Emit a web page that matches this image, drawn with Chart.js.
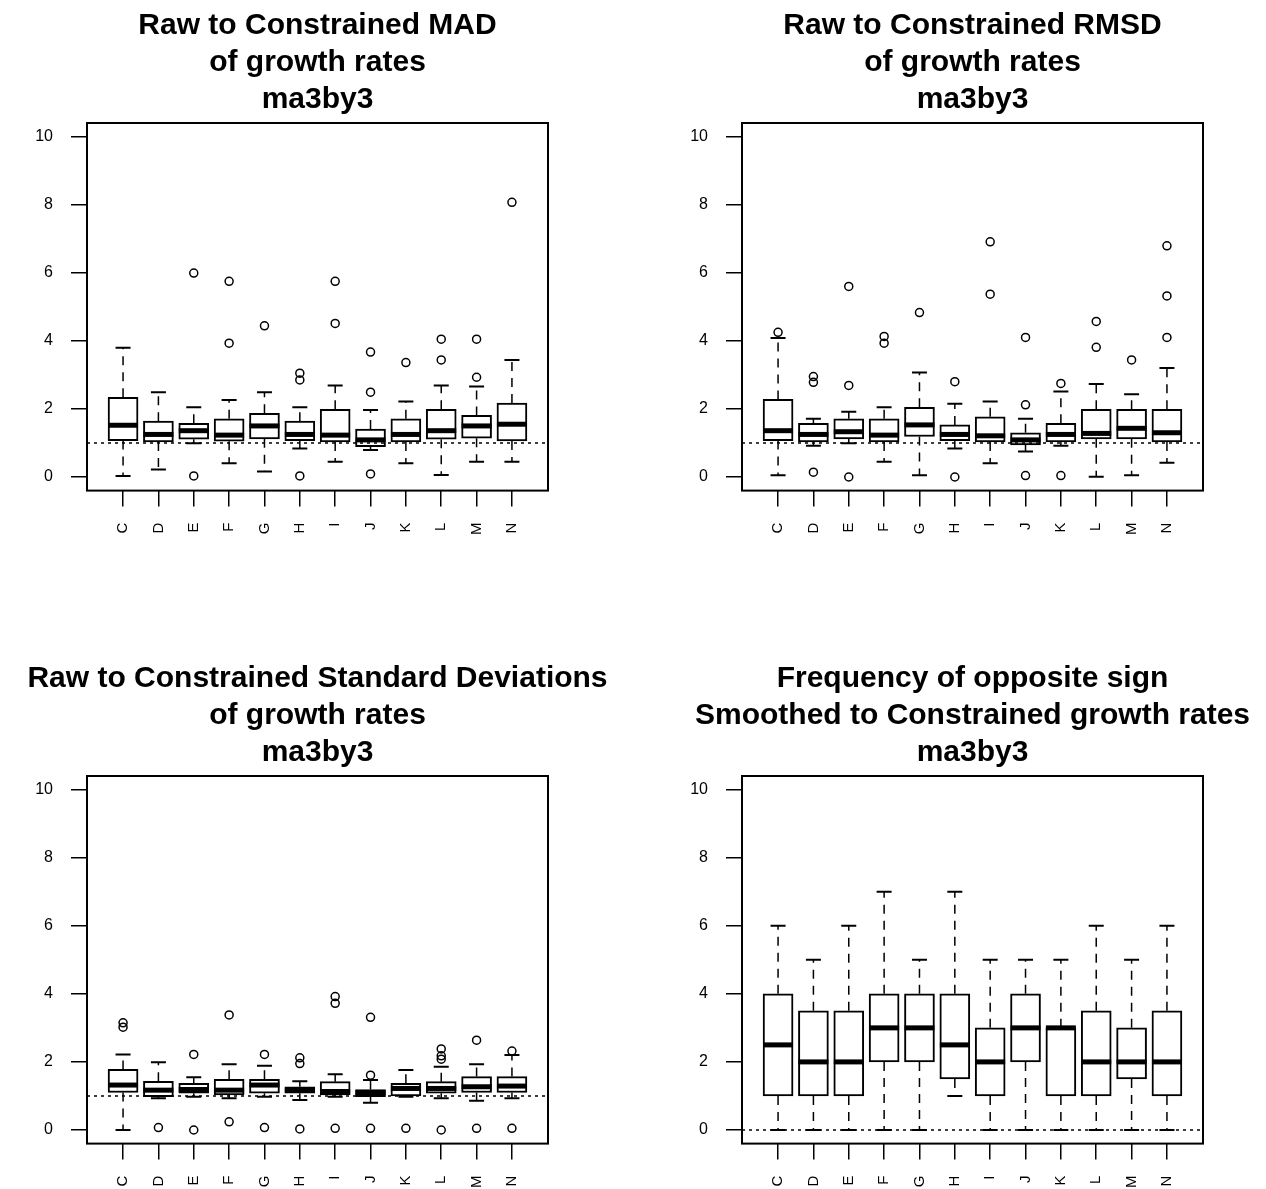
<!DOCTYPE html>
<html>
<head>
<meta charset="utf-8">
<script src="https://cdn.jsdelivr.net/npm/chart.js@4.4.0/dist/chart.umd.min.js"></script>
<style>
  html, body { margin: 0; padding: 0; background: #fff; }
  #wrap { position: relative; width: 1266px; height: 1189px; overflow: hidden; background: #fff; }
  canvas { position: absolute; }
</style>
</head>
<body>
<div id="wrap">
  <canvas id="madChart" width="635" height="536" style="left:0px;top:0px"></canvas>
  <canvas id="rmsdChart" width="635" height="536" style="left:655px;top:0px"></canvas>
  <canvas id="sdChart" width="635" height="536" style="left:0px;top:653px"></canvas>
  <canvas id="freqChart" width="635" height="536" style="left:655px;top:653px"></canvas>
</div>
<script>
const categories = ['C', 'D', 'E', 'F', 'G', 'H', 'I', 'J', 'K', 'L', 'M', 'N'];
const yTicks = [0, 2, 4, 6, 8, 10];

// MAD ratios
const madTitle = ['Raw to Constrained MAD', 'of growth rates', 'ma3by3'];
const madLow  = [0.03, 0.22, 0.99, 0.40, 0.16, 0.84, 0.45, 0.79, 0.40, 0.06, 0.45, 0.45];
const madQ1   = [1.07, 1.03, 1.11, 1.05, 1.12, 1.07, 1.03, 0.89, 1.03, 1.11, 1.14, 1.06];
const madMed  = [1.52, 1.25, 1.36, 1.23, 1.50, 1.25, 1.23, 1.09, 1.25, 1.36, 1.50, 1.55];
const madQ3   = [2.34, 1.64, 1.58, 1.71, 1.87, 1.64, 1.99, 1.41, 1.71, 1.99, 1.81, 2.17];
const madHigh = [3.80, 2.49, 2.05, 2.26, 2.49, 2.05, 2.69, 1.97, 2.22, 2.69, 2.66, 3.44];
const madOut  = [[], [], [5.99, 0.03], [5.75, 3.93], [4.44], [3.05, 2.85, 0.03],
                 [5.75, 4.51], [3.67, 2.49, 0.09], [3.36], [4.05, 3.44], [4.05, 2.93], [8.07]];

// RMSD ratios
const rmsdTitle = ['Raw to Constrained RMSD', 'of growth rates', 'ma3by3'];
const rmsdLow  = [0.05, 0.92, 0.99, 0.45, 0.05, 0.84, 0.40, 0.75, 0.92, 0.01, 0.05, 0.42];
const rmsdQ1   = [1.07, 1.03, 1.12, 1.03, 1.19, 1.07, 1.03, 0.94, 1.03, 1.12, 1.12, 1.03];
const rmsdMed  = [1.36, 1.25, 1.33, 1.23, 1.53, 1.25, 1.21, 1.09, 1.25, 1.28, 1.43, 1.30];
const rmsdQ3   = [2.28, 1.58, 1.71, 1.71, 2.05, 1.53, 1.77, 1.30, 1.58, 1.99, 1.99, 1.99];
const rmsdHigh = [4.08, 1.71, 1.92, 2.05, 3.07, 2.15, 2.22, 1.71, 2.51, 2.73, 2.43, 3.20];
const rmsdOut  = [[4.25], [2.95, 2.78, 0.14], [5.60, 2.69, 0.0], [4.13, 3.93], [4.83], [2.80, 0.0],
                  [6.91, 5.37], [4.10, 2.12, 0.04], [2.75, 0.04], [4.57, 3.81], [3.44], [6.79, 5.32, 4.10]];

// Standard deviation ratios
const sdTitle = ['Raw to Constrained Standard Deviations', 'of growth rates', 'ma3by3'];
const sdLow  = [0.00, 0.93, 0.98, 0.93, 0.98, 0.88, 0.98, 0.80, 0.98, 0.93, 0.86, 0.93];
const sdQ1   = [1.10, 0.98, 1.08, 1.03, 1.08, 1.08, 1.03, 0.98, 1.00, 1.08, 1.10, 1.10];
const sdMed  = [1.32, 1.17, 1.19, 1.17, 1.32, 1.17, 1.13, 1.10, 1.22, 1.22, 1.27, 1.29];
const sdQ3   = [1.78, 1.43, 1.37, 1.49, 1.49, 1.27, 1.42, 1.19, 1.37, 1.42, 1.57, 1.57];
const sdHigh = [2.22, 1.99, 1.55, 1.93, 1.89, 1.43, 1.64, 1.47, 1.76, 1.86, 1.93, 2.20];
const sdOut  = [[3.15, 3.02], [0.07], [2.22, 0.0], [3.38, 0.24], [2.22, 0.07], [2.12, 1.95, 0.03],
                [3.92, 3.72, 0.05], [3.31, 1.61, 0.05], [0.05], [2.38, 2.18, 2.08, 0.0], [2.64, 0.05], [2.32, 0.05]];

// Frequency of opposite sign
const freqTitle = ['Frequency of opposite sign', 'Smoothed to Constrained growth rates', 'ma3by3'];
const freqLow  = [0, 0, 0, 0, 0, 1, 0, 0, 0, 0, 0, 0];
const freqQ1   = [1, 1, 1, 2, 2, 1.5, 1, 2, 1, 1, 1.5, 1];
const freqMed  = [2.5, 2, 2, 3, 3, 2.5, 2, 3, 3, 2, 2, 2];
const freqQ3   = [4, 3.5, 3.5, 4, 4, 4, 3, 4, 3, 3.5, 3, 3.5];
const freqHigh = [6, 5, 6, 7, 5, 7, 5, 5, 5, 6, 5, 6];
const freqOut  = [[], [], [], [], [], [], [], [], [], [], [], []];

const FONT = "'Liberation Sans', Arial, sans-serif";
const BOX_W = 30;

function makeBoxChart(canvasId, titleLines, low, q1, med, q3, high, outliers, refLevel) {
    // whiskers, staples, medians, reference line and frame
    const boxParts = {
        id: 'boxParts',
        beforeDatasetsDraw(chart) {
            const {ctx, scales: {x, y}} = chart;
            ctx.save();
            ctx.strokeStyle = '#000';
            categories.forEach((c, i) => {
                const px = x.getPixelForValue(i + 1);
                ctx.lineWidth = 1.5;
                ctx.setLineDash([9, 7]);
                ctx.beginPath();
                ctx.moveTo(px, y.getPixelForValue(q3[i]));
                ctx.lineTo(px, y.getPixelForValue(high[i]));
                ctx.moveTo(px, y.getPixelForValue(q1[i]));
                ctx.lineTo(px, y.getPixelForValue(low[i]));
                ctx.stroke();
                ctx.setLineDash([]);
                ctx.lineWidth = 2;
                ctx.beginPath();
                [high[i], low[i]].forEach(v => {
                    const py = y.getPixelForValue(v);
                    ctx.moveTo(px - BOX_W / 4, py);
                    ctx.lineTo(px + BOX_W / 4, py);
                });
                ctx.stroke();
            });
            ctx.restore();
        },
        afterDatasetsDraw(chart) {
            const {ctx, chartArea, scales: {x, y}} = chart;
            ctx.save();
            ctx.strokeStyle = '#000';
            ctx.lineWidth = 5;
            ctx.lineCap = 'butt';
            categories.forEach((c, i) => {
                const px = x.getPixelForValue(i + 1);
                const py = y.getPixelForValue(med[i]);
                ctx.beginPath();
                ctx.moveTo(px - BOX_W / 2, py);
                ctx.lineTo(px + BOX_W / 2, py);
                ctx.stroke();
            });
            const ry = y.getPixelForValue(refLevel);
            ctx.lineWidth = 1.5;
            ctx.setLineDash([3, 4]);
            ctx.beginPath();
            ctx.moveTo(chartArea.left, ry);
            ctx.lineTo(chartArea.right, ry);
            ctx.stroke();
            ctx.restore();
        },
        afterDraw(chart) {
            const {ctx, chartArea} = chart;
            ctx.save();
            ctx.strokeStyle = '#000';
            ctx.lineWidth = 2;
            ctx.strokeRect(chartArea.left, chartArea.top, chartArea.right - chartArea.left, chartArea.bottom - chartArea.top);
            ctx.restore();
        }
    };

    const outlierPoints = [];
    outliers.forEach((vals, i) => vals.forEach(v => outlierPoints.push({x: i + 1, y: v})));

    return new Chart(document.getElementById(canvasId), {
        type: 'bar',
        data: {
            datasets: [
                {
                    type: 'scatter',
                    data: outlierPoints,
                    pointStyle: 'circle',
                    pointRadius: 4,
                    pointHoverRadius: 4,
                    pointBorderWidth: 1.5,
                    borderColor: '#000',
                    backgroundColor: 'rgba(0,0,0,0)'
                },
                {
                    type: 'bar',
                    data: categories.map((c, i) => ({x: i + 1, y: [q1[i], q3[i]]})),
                    backgroundColor: '#fff',
                    borderColor: '#000',
                    borderWidth: 2,
                    borderSkipped: false,
                    barThickness: BOX_W
                }
            ]
        },
        options: {
            responsive: false,
            animation: false,
            layout: { padding: 0 },
            plugins: {
                legend: { display: false },
                tooltip: { enabled: false },
                title: {
                    display: true,
                    text: titleLines,
                    color: '#000',
                    font: { family: FONT, size: 30, weight: 'bold', lineHeight: 37 / 30 },
                    padding: { top: 7.5, bottom: 4.5 }
                }
            },
            scales: {
                x: {
                    type: 'linear',
                    min: -0.02,
                    max: 13.02,
                    offset: false,
                    afterBuildTicks: s => { s.ticks = categories.map((c, i) => ({value: i + 1})); },
                    afterFit: s => { s.height = 45.4; },
                    ticks: {
                        autoSkip: false,
                        minRotation: 90,
                        maxRotation: 90,
                        padding: 16,
                        color: '#000',
                        font: { family: FONT, size: 15 },
                        callback: v => categories[v - 1]
                    },
                    grid: { offset: false, drawOnChartArea: false, drawTicks: true, tickLength: 16, color: '#000', lineWidth: 1.5 },
                    border: { display: false }
                },
                y: {
                    type: 'linear',
                    min: -0.4,
                    max: 10.4,
                    afterBuildTicks: s => { s.ticks = yTicks.map(v => ({value: v})); },
                    afterFit: s => { s.width = 87; },
                    ticks: {
                        padding: 18,
                        color: '#000',
                        font: { family: FONT, size: 16 }
                    },
                    grid: { drawOnChartArea: false, drawTicks: true, tickLength: 16, color: '#000', lineWidth: 1.5 },
                    border: { display: false }
                },
                yRight: {
                    type: 'linear',
                    position: 'right',
                    afterFit: s => { s.width = 87; },
                    ticks: { display: false },
                    grid: { display: false },
                    border: { display: false }
                }
            }
        },
        plugins: [boxParts]
    });
}

makeBoxChart('madChart', madTitle, madLow, madQ1, madMed, madQ3, madHigh, madOut, 1);
makeBoxChart('rmsdChart', rmsdTitle, rmsdLow, rmsdQ1, rmsdMed, rmsdQ3, rmsdHigh, rmsdOut, 1);
makeBoxChart('sdChart', sdTitle, sdLow, sdQ1, sdMed, sdQ3, sdHigh, sdOut, 1);
makeBoxChart('freqChart', freqTitle, freqLow, freqQ1, freqMed, freqQ3, freqHigh, freqOut, 0);
</script>
</body>
</html>
